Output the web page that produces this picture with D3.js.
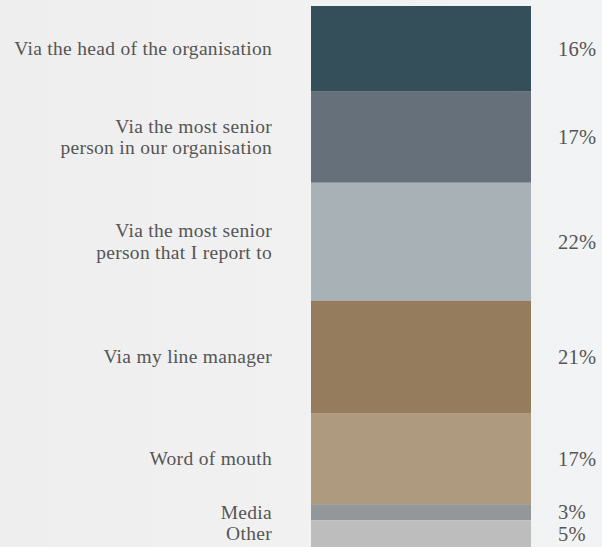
<!DOCTYPE html>
<html>
<head>
<meta charset="utf-8">
<script src="https://cdn.jsdelivr.net/npm/d3@7"></script>
<style>
  html, body { margin: 0; padding: 0; background: #f0f0f0; }
  svg { display: block; }
</style>
</head>
<body>
<svg id="chart" width="602" height="547"></svg>
<script>
// Channels through which respondents heard, stacked top to bottom
const categories = [
  ["Via the head of the organisation"],
  ["Via the most senior", "person in our organisation"],
  ["Via the most senior", "person that I report to"],
  ["Via my line manager"],
  ["Word of mouth"],
  ["Media"],
  ["Other"]
];
const values = [16, 17, 22, 21, 17, 3, 5];
const valueLabels = ["16%", "17%", "22%", "21%", "17%", "3%", "5%"];
const colors = ["#344e5a", "#66707a", "#a7b1b6", "#957c5c", "#ae9a7e", "#94979a", "#bcbdbc"];

const width = 602, height = 547;
const svg = d3.select("#chart");

// soft background wash
const defs = svg.append("defs");
const grad = defs.append("linearGradient").attr("id", "bg").attr("x1", "0").attr("x2", "1").attr("y1", "0").attr("y2", "0");
grad.append("stop").attr("offset", "0").attr("stop-color", "#eeeeee");
grad.append("stop").attr("offset", "0.5").attr("stop-color", "#f1f1f1");
grad.append("stop").attr("offset", "1").attr("stop-color", "#f2f3f4");
svg.append("rect").attr("width", width).attr("height", height).attr("fill", "url(#bg)");

// cumulative stack
const stack = [];
let acc = 0;
values.forEach((v, i) => { stack.push({ i, y0: acc, y1: acc + v }); acc += v; });

const y = d3.scaleLinear().domain([0, acc]).range([6, 547]);
const x0 = 311, x1 = 531;

svg.append("g").selectAll("rect")
  .data(stack)
  .join("rect")
  .attr("x", x0)
  .attr("width", x1 - x0)
  .attr("y", d => y(d.y0))
  .attr("height", d => y(d.y1) - y(d.y0))
  .attr("fill", d => colors[d.i]);

const font = "'Liberation Serif', 'DejaVu Serif', serif";
const lineH = 21.5;

// category labels, right aligned to the left of the bar
const lab = svg.append("g")
  .attr("font-family", font)
  .attr("font-size", 19.5)
  .attr("letter-spacing", 0.3)
  .attr("fill", "#555")
  .attr("text-anchor", "end");

stack.forEach(d => {
  const lines = categories[d.i];
  const cy = (y(d.y0) + y(d.y1)) / 2;
  const t = lab.append("text");
  lines.forEach((ln, k) => {
    t.append("tspan")
      .attr("x", 272)
      .attr("y", cy + (k - (lines.length - 1) / 2) * lineH + 6.5)
      .text(ln);
  });
});

// percentage labels to the right of the bar
svg.append("g")
  .attr("font-family", font)
  .attr("font-size", 20.5)
  .attr("letter-spacing", 0.3)
  .attr("fill", "#555")
  .selectAll("text")
  .data(stack)
  .join("text")
  .attr("x", 558)
  .attr("y", d => (y(d.y0) + y(d.y1)) / 2 + 7)
  .text(d => valueLabels[d.i]);
</script>
</body>
</html>
